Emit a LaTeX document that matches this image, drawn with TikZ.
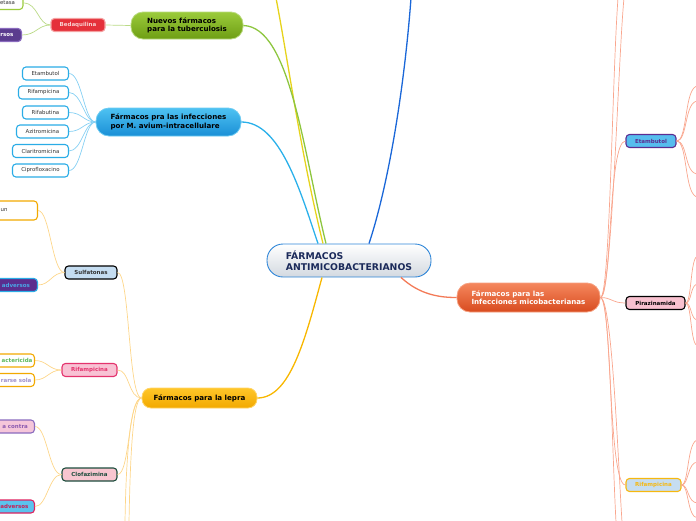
\documentclass[tikz,border=0pt]{standalone}
\usepackage{fontspec}
\setmainfont{DejaVu Sans}
\definecolor{cblue}{HTML}{2F86D8}
\definecolor{cgrey}{HTML}{D3D9E0}
\definecolor{cnavy}{HTML}{1B2A5A}
\definecolor{green1}{HTML}{9BCB3B}
\definecolor{green2}{HTML}{6E9E14}
\definecolor{greenB}{HTML}{B9DA7E}
\definecolor{cred}{HTML}{E5303A}
\definecolor{redB}{HTML}{F4A0A0}
\definecolor{pinkT}{HTML}{F8D0D0}
\definecolor{cpurple}{HTML}{5A3C8E}
\definecolor{purpleB}{HTML}{8A6BBE}
\definecolor{lblue1}{HTML}{4EC2F2}
\definecolor{lblue2}{HTML}{1A8FD6}
\definecolor{lblueB}{HTML}{6CCBF2}
\definecolor{leafB}{HTML}{2AACE6}
\definecolor{lep1}{HTML}{FFC629}
\definecolor{lep2}{HTML}{F2A900}
\definecolor{lepB}{HTML}{FFD466}
\definecolor{mic1}{HTML}{F5875D}
\definecolor{mic2}{HTML}{D84B1F}
\definecolor{micB}{HTML}{F6A080}
\definecolor{sulB}{HTML}{C5DDF1}
\definecolor{rifR}{HTML}{E4336D}
\definecolor{rifP}{HTML}{F8C2D4}
\definecolor{clofG}{HTML}{1D4D3D}
\definecolor{clofP}{HTML}{F8C6D0}
\definecolor{contraP}{HTML}{F5C6DA}
\definecolor{contraT}{HTML}{8C5BB0}
\definecolor{advFill}{HTML}{5BC3EE}
\definecolor{advB}{HTML}{DE2260}
\definecolor{advT}{HTML}{C81E55}
\definecolor{advBlue}{HTML}{49A6E6}
\definecolor{cpurple2}{HTML}{5B2D8E}
\definecolor{actT}{HTML}{5CB85C}
\definecolor{solaT}{HTML}{9D8FCC}
\definecolor{etFill}{HTML}{56BDEE}
\definecolor{etB}{HTML}{5C2D91}
\definecolor{piraFill}{HTML}{F8C1CF}
\definecolor{rrFill}{HTML}{C6DDF1}
\definecolor{rrB}{HTML}{F6B810}
\definecolor{eYellow}{HTML}{E6D31C}
\definecolor{eGreen}{HTML}{8DC63F}
\definecolor{eLBlue}{HTML}{2AB0EA}
\definecolor{eDBlue}{HTML}{1A67D8}
\definecolor{eLep}{HTML}{F8B700}
\definecolor{eMic}{HTML}{F37A57}
\definecolor{sGreen}{HTML}{BADA86}
\definecolor{sLBlue}{HTML}{86D0F3}
\definecolor{sLep}{HTML}{FDD68A}
\definecolor{sMic}{HTML}{F9A68E}
\definecolor{txt}{HTML}{333333}
\tikzset{
  big/.style={font=\fontsize{7.1}{8.4}\selectfont\bfseries, align=left, inner sep=0pt, line width=0.8pt},
  leaf/.style={rounded corners=3.5pt, line width=1.1pt, font=\fontsize{5.4}{6.4}\selectfont, inner sep=0pt, minimum height=13pt, text=txt},
  bleaf/.style={leaf, font=\fontsize{5.5}{6.5}\selectfont\bfseries},
  cut/.style={leaf, anchor=east, text width=60pt, align=right, inner xsep=#1},
  cut/.default=7pt,
  e/.style={line width=1.3pt},
  s/.style={line width=0.7pt}
}
\begin{document}
\begin{tikzpicture}[x=1pt,y=-1pt]
\useasboundingbox (0,0) rectangle (696,520);
\clip (0,0) rectangle (696,520);
% central
\node[draw=cblue, top color=white, bottom color=cgrey, rounded corners=16pt, minimum width=164pt, minimum height=33pt, line width=0.9pt, font=\fontsize{9.3}{10.8}\selectfont\bfseries, text=cnavy, align=left, inner sep=0pt] (c) at (349,260.5) {FÁRMACOS\\ANTIMICOBACTERIANOS};
% tuberculosis
\node[big, draw=greenB, top color=green1, bottom color=green2, minimum width=112pt, minimum height=27pt, rounded corners=12pt] (nf) at (187,25.5) {Nuevos fármacos\\para la tuberculosis};
\node[bleaf, draw=redB, fill=cred, text=pinkT, minimum width=54pt] (bed) at (78,25) {Bedaquilina};
\node[cut=8pt, draw=green1, fill=white] (eta) at (23.5,3) {etasa};
\node[cut=8pt, draw=purpleB, fill=cpurple, text=white, font=\fontsize{5.5}{6.5}\selectfont\bfseries] (rs) at (22,35) {rsos};
% avium
\node[big, draw=lblueB, top color=lblue1, bottom color=lblue2, minimum width=145pt, minimum height=28pt, rounded corners=13pt] (av) at (168.5,122) {Fármacos pra las infecciones\\por M. avium-intracellulare};
\node[leaf, draw=leafB, fill=white, anchor=east, minimum width=46pt] (a1) at (69,73.5) {Etambutol};
\node[leaf, draw=leafB, fill=white, anchor=east, minimum width=50pt] (a2) at (69,92.5) {Rifampicina};
\node[leaf, draw=leafB, fill=white, anchor=east, minimum width=46pt] (a3) at (69,112.5) {Rifabutina};
\node[leaf, draw=leafB, fill=white, anchor=east, minimum width=52pt] (a4) at (69,131.5) {Azitromicina};
\node[leaf, draw=leafB, fill=white, anchor=east, minimum width=56pt] (a5) at (69,151) {Claritromicina};
\node[leaf, draw=leafB, fill=white, anchor=east, minimum width=56pt] (a6) at (69,170.5) {Ciprofloxacino};
% lepra
\node[big, draw=lepB, top color=lep1, bottom color=lep2, minimum width=115pt, minimum height=20pt, rounded corners=9pt] (lp) at (199.5,398) {Fármacos para la lepra};
\node[bleaf, draw=black, fill=sulB, minimum width=52pt] (sul) at (91,272.5) {Sulfatonas};
\node[cut=0pt, draw=lep2, fill=white, minimum height=19pt] (un) at (38,210.5) {un\rule{30pt}{0pt}};
\node[cut=7.5pt, draw=leafB, fill=cpurple2, text=advBlue, font=\fontsize{5.5}{6.5}\selectfont\bfseries] (ad1) at (38,285) {adversos};
\node[bleaf, draw=rifR, fill=rifP, text=rifR, minimum width=55pt] (rl) at (89.5,370) {Rifampicina};
\node[cut=2pt, draw=lep2, fill=white, text=actT, font=\fontsize{5.5}{6.5}\selectfont\bfseries] (act) at (35,360.5) {actericida};
\node[cut=3pt, draw=lep2, fill=white, text=solaT, font=\fontsize{5.5}{6.5}\selectfont\bfseries] (sola) at (35,380) {rarse sola};
\node[bleaf, draw=clofG, fill=clofP, text=clofG, minimum width=55pt] (cl) at (89.5,474.5) {Clofazimina};
\node[cut=6.5pt, draw=purpleB, fill=contraP, text=contraT, font=\fontsize{5.5}{6.5}\selectfont\bfseries] (con) at (35,426.5) {a contra};
\node[cut=6pt, draw=advB, fill=advFill, text=advT, font=\fontsize{5.5}{6.5}\selectfont\bfseries] (ad2) at (35,506.5) {adversos};
% micobacterianas
\node[big, draw=micB, top color=mic1, bottom color=mic2, text=white, minimum width=143pt, minimum height=29pt, rounded corners=13pt] (mi) at (528.5,297.5) {Fármacos para las\\Infecciones micobacterianas};
\node[bleaf, draw=etB, fill=etFill, text=etB, minimum width=50pt] (et) at (651,141) {Etambutol};
\node[bleaf, draw=black, fill=piraFill, text=black, minimum width=59pt] (pz) at (655.5,303) {Pirazinamida};
\node[bleaf, draw=rrB, fill=rrFill, text=rrB, minimum width=55pt] (rr) at (653.5,485) {Rifampicina};
% free ends
\coordinate (yt) at (276,-2);
\coordinate (dt) at (411,-2);
\coordinate (lb1) at (125,522);
\coordinate (lb2) at (129,522);
\coordinate (mt1) at (618,-2);
\coordinate (mt2) at (624,-2);
\coordinate (mb1) at (616,522);
\coordinate (mb2) at (622,522);
% central edges
\draw[e, eYellow] ([xshift=-26pt]c.north) .. controls (300,150) and (288,60) .. (yt);
\draw[e, eLBlue] ([xshift=-31pt]c.north) .. controls (300,190) and (280,122) .. (av.east);
\draw[e, eGreen] ([xshift=-23pt]c.north) .. controls (303,150) and (290,27) .. (nf.east);
\draw[e, eDBlue] ([xshift=20pt]c.north) .. controls (390,180) and (405,80) .. (dt);
\draw[e, eLep] ([xshift=-27pt]c.south) .. controls (305,340) and (290,398) .. (lp.east);
\draw[e, eMic] ([xshift=52pt]c.south) .. controls (420,295) and (440,297.5) .. (mi.west);
% tuberculosis sub
\draw[s, sGreen] (nf.west) -- (bed.east);
\draw[s, sGreen] (bed.west) .. controls (38,25) and (38,3) .. (eta.east);
\draw[s, sGreen] (bed.west) .. controls (38,25) and (36,35) .. (rs.east);
% avium sub
\foreach \k/\y in {a1/73.5,a2/92.5,a3/112.5,a4/131.5,a5/151,a6/170.5}
  \draw[s, sLBlue] (av.west) .. controls (84,122) and (82,\y) .. (\k.east);
% lepra sub
\draw[s, sLep] (lp.west) .. controls (128,398) and (130,272.5) .. (sul.east);
\draw[s, sLep] (lp.west) .. controls (128,398) and (130,370) .. (rl.east);
\draw[s, sLep] (lp.west) .. controls (128,398) and (130,474.5) .. (cl.east);
\draw[s, sLep] (lp.west) .. controls (130,398) and (126,460) .. (lb1);
\draw[s, sLep] (lp.west) .. controls (132,398) and (130,470) .. (lb2);
\draw[s, sLep] (sul.west) .. controls (52,272.5) and (50,210.5) .. (un.east);
\draw[s, sLep] (sul.west) .. controls (52,272.5) and (50,285) .. (ad1.east);
\draw[s, sLep] (rl.west) .. controls (49,370) and (47,360.5) .. (act.east);
\draw[s, sLep] (rl.west) .. controls (49,370) and (47,380) .. (sola.east);
\draw[s, sLep] (cl.west) .. controls (49,474.5) and (47,426.5) .. (con.east);
\draw[s, sLep] (cl.west) .. controls (49,474.5) and (47,506.5) .. (ad2.east);
% micobacterianas sub
\draw[s, sMic] (mi.east) .. controls (612,297.5) and (608,141) .. (et.west);
\draw[s, sMic] (mi.east) .. controls (612,297.5) and (612,303) .. (pz.west);
\draw[s, sMic] (mi.east) .. controls (612,297.5) and (608,485) .. (rr.west);
\draw[s, sMic] (mi.east) .. controls (610,297.5) and (612,80) .. (mt1);
\draw[s, sMic] (mi.east) .. controls (612,297.5) and (618,60) .. (mt2);
\draw[s, sMic] (mi.east) .. controls (610,297.5) and (612,450) .. (mb1);
\draw[s, sMic] (mi.east) .. controls (612,297.5) and (618,460) .. (mb2);
\foreach \n/\y in {1/86,2/101,3/174,4/197} {
  \coordinate (er\n) at (698,\y);
  \draw[s, sMic] (et.east) .. controls (688,141) and (684,\y) .. (er\n);
}
\foreach \n/\y in {1/256,2/284,3/320,4/346} {
  \coordinate (pr\n) at (698,\y);
  \draw[s, sMic] (pz.east) .. controls (692,303) and (690,\y) .. (pr\n);
}
\foreach \n/\y in {1/440,2/462,3/503,4/518} {
  \coordinate (rq\n) at (698,\y);
  \draw[s, sMic] (rr.east) .. controls (689,485) and (687,\y) .. (rq\n);
}
\end{tikzpicture}
\end{document}
